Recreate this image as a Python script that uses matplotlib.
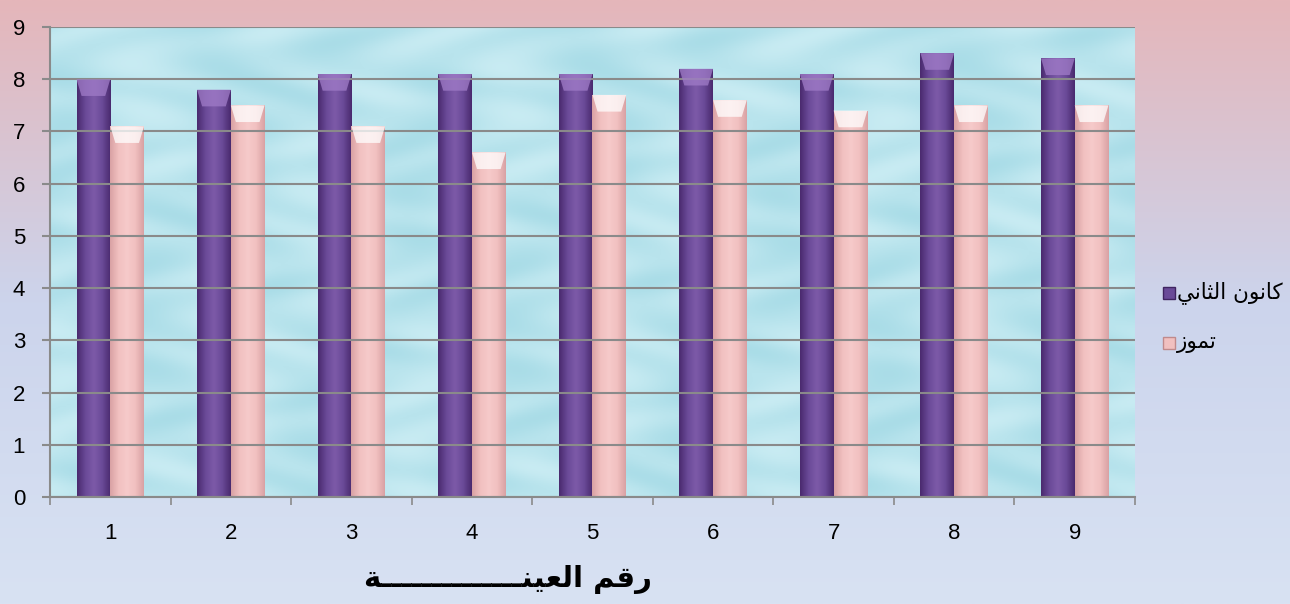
import numpy as np
import matplotlib
matplotlib.use("Agg")
import matplotlib.pyplot as plt
from matplotlib.patches import Polygon, Rectangle
from matplotlib.colors import LinearSegmentedColormap

# ---- data ----
categories = ["1", "2", "3", "4", "5", "6", "7", "8", "9"]
jan_values = [8.0, 7.8, 8.1, 8.1, 8.1, 8.2, 8.1, 8.5, 8.4]
jul_values = [7.1, 7.5, 7.1, 6.6, 7.7, 7.6, 7.4, 7.5, 7.5]
y_ticks = [0, 1, 2, 3, 4, 5, 6, 7, 8, 9]

# Arabic labels pre-shaped (presentation forms, visual order)
label_jan = "\uFEF2\uFEE7\uFE8E\uFE9C\uFEDF\uFE8D \uFEE5\uFEEE\uFEE7\uFE8E\uFEDB"   # كانون الثاني
label_jul = "\uFEAF\uFEEE\uFEE4\uFE97"                                             # تموز
xlabel_txt = "\uFE94" + "\u0640" * 14 + "\uFEE8\uFEF4\uFECC\uFEDF\uFE8D \uFEE2\uFED7\uFEAD"  # رقم العينـــة

plt.rcParams['font.family'] = ['Liberation Sans', 'DejaVu Sans']

W, H = 1290, 604
fig = plt.figure(figsize=(W / 100, H / 100), dpi=100)

# figure background gradient
bg = fig.add_axes([0, 0, 1, 1], zorder=-10)
bg.set_axis_off()
top_c = np.array([229, 182, 186]) / 255
mid_c = np.array([204, 212, 236]) / 255
bot_c = np.array([216, 226, 243]) / 255
t = np.linspace(0, 1, 300)[:, None]
grad = np.where(t < 0.5, top_c * (1 - t / 0.5) + mid_c * (t / 0.5),
                mid_c * (1 - (t - 0.5) / 0.5) + bot_c * ((t - 0.5) / 0.5))
grad = np.repeat(grad[:, None, :], 2, axis=1).reshape(300, 2, 3)
bg.imshow(grad, aspect='auto', extent=[0, 1, 0, 1], origin='upper')
bg.set_xlim(0, 1); bg.set_ylim(0, 1)

L, R = 50 / W, 1135 / W
B, T = 1 - 497 / H, 1 - 27 / H
ax = fig.add_axes([L, B, R - L, T - B])
ax.patch.set_alpha(0)

x = np.arange(len(categories))
ax.set_xlim(-0.5, len(categories) - 0.5)
ax.set_ylim(0, 9)

# plot area background (light water colour)
yy, xx = np.mgrid[0:1:200j, 0:1:400j]
base = np.array([160, 216, 228]) / 255
light = np.array([210, 240, 246]) / 255
w = 0.5 + 0.3 * np.sin(xx * 37 + np.sin(yy * 23) * 2) * np.cos(yy * 29 + np.sin(xx * 17))
w = np.clip(w, 0, 1)[..., None]
tex = base * (1 - w) + light * w
ax.imshow(tex, aspect='auto', extent=[-0.5, len(categories) - 0.5, 0, 9], zorder=0)

ax.set_yticks(y_ticks)
ax.yaxis.grid(True, color='#8a8a8a', linewidth=1.5, zorder=1)
ax.set_axisbelow(False)
for gl in ax.get_ygridlines():
    gl.set_zorder(1)

bw = 0.28
jan_cmap = LinearSegmentedColormap.from_list('j', ['#4a2a6e', '#6a4a98', '#7d5aa8', '#6a4a98', '#4a2a6e'])
jul_cmap = LinearSegmentedColormap.from_list('p', ['#d9a2a4', '#f1c0c0', '#f6caca', '#f1c0c0', '#d9a2a4'])
bars_j = ax.bar(x - bw / 2, jan_values, bw, color='#6a4a98', zorder=2, linewidth=0)
bars_p = ax.bar(x + bw / 2, jul_values, bw, color='#f1c0c0', zorder=2, linewidth=0)

hgrad = np.linspace(0, 1, 64)[None, :]
for bars, cmap, top_col in [(bars_j, jan_cmap, '#a07cc8'), (bars_p, jul_cmap, '#ffffff')]:
    for b in bars:
        x0, y0 = b.get_x(), b.get_y()
        wd, ht = b.get_width(), b.get_height()
        im = ax.imshow(hgrad, cmap=cmap, aspect='auto', extent=[x0, x0 + wd, y0, y0 + ht], zorder=2.5)
        im.set_clip_path(b)
        bev = 0.32
        poly = Polygon([(x0, y0 + ht), (x0 + wd, y0 + ht),
                        (x0 + wd * 0.85, y0 + ht - bev), (x0 + wd * 0.15, y0 + ht - bev)],
                       closed=True, facecolor=top_col, edgecolor='none', alpha=0.75, zorder=3)
        ax.add_patch(poly)

ax.set_xlim(-0.5, len(categories) - 0.5)
ax.set_ylim(0, 9)

ax.set_xticks(x)
ax.set_xticklabels(categories, fontsize=16)
ax.set_xticks(np.arange(-0.5, len(categories)), minor=True)
ax.tick_params(axis='x', which='major', length=0, pad=19)
ax.tick_params(axis='x', which='minor', length=6, color='#8a8a8a', width=1.2)
ax.tick_params(axis='y', length=6, color='#8a8a8a', width=1.5, labelsize=16, pad=12)

for s in ['top', 'right']:
    ax.spines[s].set_visible(False)
for s in ['left', 'bottom']:
    ax.spines[s].set_color('#8a8a8a')
    ax.spines[s].set_linewidth(1.5)
    ax.spines[s].set_zorder(4)

# legend
sq = 12
for i, (lab, c, ec) in enumerate([(label_jan, '#6a4a98', '#3f2460'), (label_jul, '#f1c0c0', '#c08a8c')]):
    yc = 1 - (293 + i * 50) / H
    fig.patches.append(Rectangle((1163 / W, yc - sq / 2 / H), sq / W, sq / H,
                                 transform=fig.transFigure, facecolor=c, edgecolor=ec, linewidth=1))
    fig.text(1177 / W, yc, lab, fontsize=15.5, va='center', ha='left',
             family=['DejaVu Sans'])

fig.text(508 / W, 1 - 580 / H, xlabel_txt, fontsize=21, fontweight='bold', ha='center', va='center',
         family=['DejaVu Sans'])

fig.savefig('out.png', dpi=100)
